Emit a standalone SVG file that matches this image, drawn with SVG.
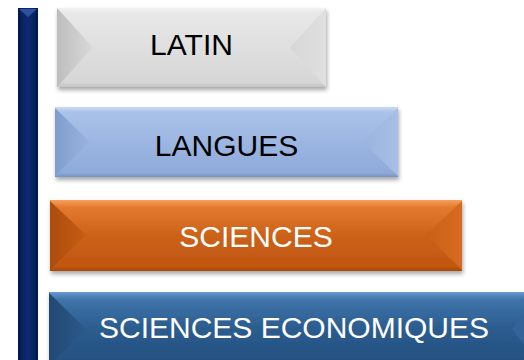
<svg xmlns="http://www.w3.org/2000/svg" width="524" height="360" viewBox="0 0 524 360">
<style>
.lbl{font-family:"Liberation Sans",Arial,sans-serif;font-size:30px;text-anchor:middle}
.dark{fill:#000}
.light{fill:#fff}
</style>
<defs>
<filter id="sh" x="-10%" y="-10%" width="120%" height="130%">
<feDropShadow dx="1" dy="3" stdDeviation="2" flood-color="#000" flood-opacity="0.35"/>
</filter>
<linearGradient id="gLat" x1="0" y1="0" x2="0" y2="1">
<stop offset="0" stop-color="#f3f3f3"/><stop offset="0.06" stop-color="#e8e8e8"/><stop offset="0.94" stop-color="#d6d6d6"/><stop offset="1" stop-color="#c4c4c4"/>
</linearGradient>
<linearGradient id="gLatL" x1="0" y1="0" x2="1" y2="0">
<stop offset="0" stop-color="#bdbdbd"/><stop offset="1" stop-color="#dadada"/>
</linearGradient>
<linearGradient id="gLatR" x1="0" y1="0" x2="1" y2="0">
<stop offset="0" stop-color="#d6d6d6"/><stop offset="1" stop-color="#e0e0e0"/>
</linearGradient>
<linearGradient id="gLan" x1="0" y1="0" x2="0" y2="1">
<stop offset="0" stop-color="#c9daf3"/><stop offset="0.08" stop-color="#a9c2e9"/><stop offset="0.94" stop-color="#8eaad9"/><stop offset="1" stop-color="#7894c4"/>
</linearGradient>
<linearGradient id="gLanL" x1="0" y1="0" x2="1" y2="0">
<stop offset="0" stop-color="#809dcc"/><stop offset="1" stop-color="#9ab4df"/>
</linearGradient>
<linearGradient id="gLanR" x1="0" y1="0" x2="1" y2="0">
<stop offset="0" stop-color="#9ab4de"/><stop offset="1" stop-color="#a7bfe6"/>
</linearGradient>
<linearGradient id="gSci" x1="0" y1="0" x2="0" y2="1">
<stop offset="0" stop-color="#f8a05a"/><stop offset="0.1" stop-color="#e47a30"/><stop offset="0.5" stop-color="#cc6218"/><stop offset="0.94" stop-color="#c0560f"/><stop offset="1" stop-color="#a64808"/>
</linearGradient>
<linearGradient id="gSciL" x1="0" y1="0" x2="1" y2="0">
<stop offset="0" stop-color="#ac4d0c"/><stop offset="1" stop-color="#c65c14"/>
</linearGradient>
<linearGradient id="gSciR" x1="0" y1="0" x2="1" y2="0">
<stop offset="0" stop-color="#ca6018"/><stop offset="1" stop-color="#d66a20"/>
</linearGradient>
<linearGradient id="gEco" x1="0" y1="0" x2="0" y2="1">
<stop offset="0" stop-color="#6a9ace"/><stop offset="0.1" stop-color="#3f74aa"/><stop offset="0.5" stop-color="#2b5c8e"/><stop offset="1" stop-color="#234f7e"/>
</linearGradient>
<linearGradient id="gEcoL" x1="0" y1="0" x2="1" y2="0">
<stop offset="0" stop-color="#214872"/><stop offset="1" stop-color="#2b5a8a"/>
</linearGradient>
<linearGradient id="gBar" x1="0" y1="0" x2="1" y2="0">
<stop offset="0" stop-color="#00164c"/><stop offset="0.2" stop-color="#08235f"/><stop offset="0.5" stop-color="#0c2a72"/><stop offset="0.8" stop-color="#08235f"/><stop offset="1" stop-color="#00164c"/>
</linearGradient>
</defs>

<g id="connectors">
<g id="bar">
<rect x="18" y="8" width="20" height="360" fill="url(#gBar)"/>
<polygon points="19,9 37,9 28,17" fill="#2f52a0"/>
</g>
</g>

<g id="latin">
<rect x="57" y="8" width="269" height="79" fill="url(#gLat)" filter="url(#sh)"/>
<polygon points="57,8 93,47.5 57,87" fill="url(#gLatL)"/>
<polygon points="326,8 290,47.5 326,87" fill="url(#gLatR)"/>
<text class="lbl dark" x="191.5" y="55">LATIN</text>
</g>

<g id="langues">
<rect x="55" y="107" width="343" height="70" fill="url(#gLan)" filter="url(#sh)"/>
<polygon points="55,108 90,142 55,176" fill="url(#gLanL)"/>
<polygon points="398,108 363,142 398,176" fill="url(#gLanR)"/>
<text class="lbl dark" x="226.5" y="156">LANGUES</text>
</g>

<g id="sciences">
<rect x="50" y="200" width="412" height="71" fill="url(#gSci)" filter="url(#sh)"/>
<polygon points="50,201 86,235 50,270" fill="url(#gSciL)"/>
<polygon points="462,201 426,235 462,270" fill="url(#gSciR)"/>
<text class="lbl light" x="256" y="246.5">SCIENCES</text>
</g>

<g id="sciences-eco">
<rect x="49" y="292" width="492" height="74" fill="url(#gEco)" filter="url(#sh)"/>
<polygon points="49,293 86,329 49,366" fill="url(#gEcoL)"/>
<polygon points="541,293 512,329 541,366" fill="#34639a"/>
<text class="lbl light" x="294" y="337.5">SCIENCES ECONOMIQUES</text>
</g>
</svg>
